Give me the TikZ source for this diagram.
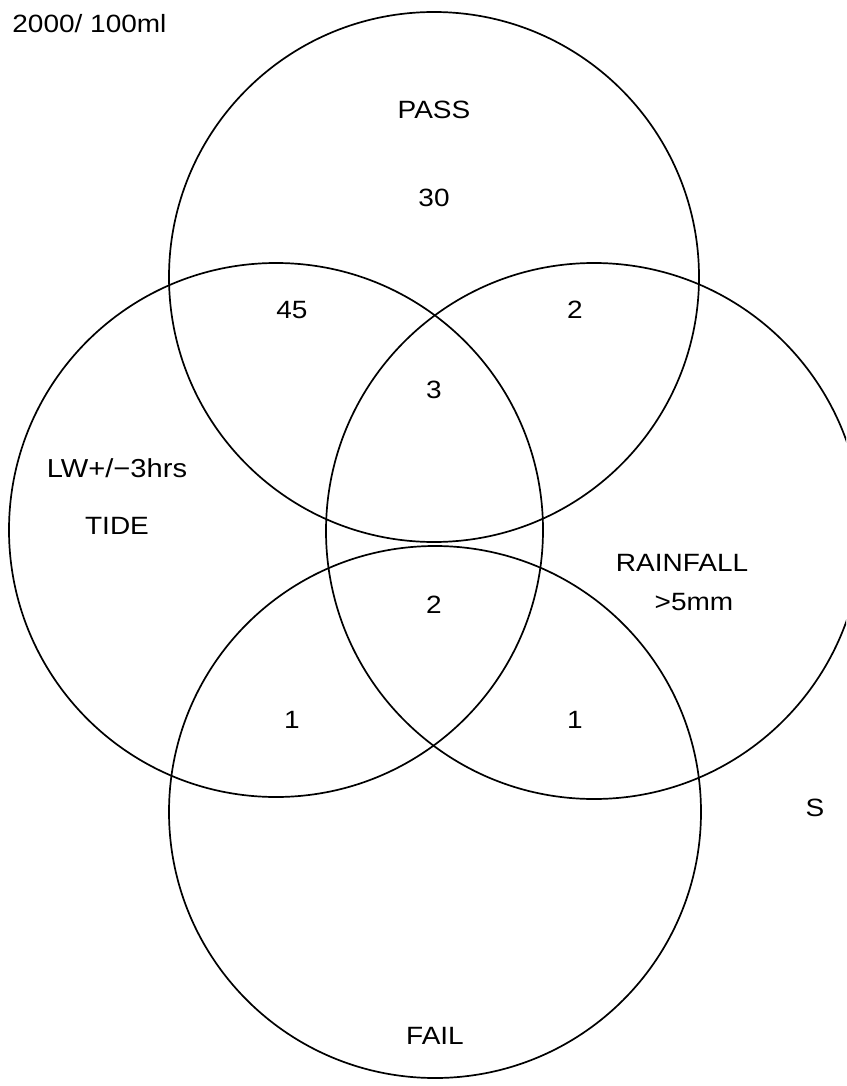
\documentclass[tikz,border=0pt]{standalone}
\usepackage{fontspec}
\setmainfont[FakeStretch=1.12]{Liberation Sans}
\usetikzlibrary{positioning}
\tikzset{
  ring/.style={draw, line width=0.85pt},
  lbl/.style={font=\fontsize{12.5}{14}\selectfont, inner sep=0pt},
}

\begin{document}
\begin{tikzpicture}[x=0.5pt, y=-0.5pt]
    \useasboundingbox (0,0) rectangle (846,1086);
    \clip (0,0) rectangle (846,1086);
    % circle centres
    \coordinate (pass) at (434,277);
    \coordinate (tide) at (276,530);
    \coordinate (rain) at (594,531);
    \coordinate (fail) at (435,812);
    \draw[ring] (pass) circle[radius=265];
    \draw[ring] (tide) circle[radius=267];
    \draw[ring] (rain) circle[radius=268];
    \draw[ring] (fail) circle[radius=266];
    % labels
    \node[lbl, anchor=west] (unit) at (12,24) {2000/ 100ml};
    \node[lbl] (passlbl) at (434,110) {PASS};
    \node[lbl] (faillbl) at (435,1036) {FAIL};
    \node[lbl, font=\fontsize{13}{14}\selectfont] (lw) at (117,468) {LW+/−3hrs};
    \node[lbl, anchor=base] (tidelbl) at ([yshift=-28.5pt]lw.base) {TIDE};
    \node[lbl] (rainlbl) at (682,563) {RAINFALL};
    \node[lbl, anchor=base] (mm) at ([xshift=6pt, yshift=-19.5pt]rainlbl.base) {>5mm};
    \node[lbl] (s) at (815,808) {S};
    % counts
    \node[lbl] (n30) at (434,198) {30};
    \node[lbl] (n45) at (292,310) {45};
    \node[lbl] (n2a) at (575,310) {2};
    \node[lbl] (n3) at (434,390) {3};
    \node[lbl] (n2b) at (434,605) {2};
    \node[lbl] (n1a) at (292,720) {1};
    \node[lbl] (n1b) at (575,720) {1};
\end{tikzpicture}
\end{document}
